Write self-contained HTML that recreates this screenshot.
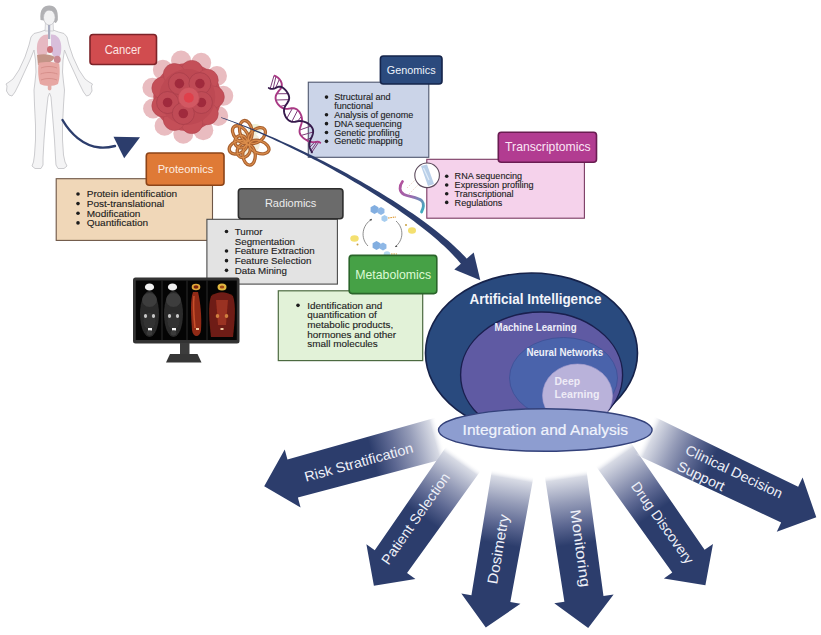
<!DOCTYPE html>
<html><head><meta charset="utf-8"><style>
html,body{margin:0;padding:0;background:#fff;width:821px;height:635px;overflow:hidden}
svg{display:block}
text{font-family:"Liberation Sans", sans-serif}
</style></head><body>
<svg width="821" height="635" viewBox="0 0 821 635">
<defs><filter id="soft" x="-10%" y="-10%" width="120%" height="120%"><feGaussianBlur stdDeviation="0.7"/></filter>
<linearGradient id="rnag" x1="0" y1="0" x2="1" y2="1"><stop offset="0" stop-color="#b4509c"/><stop offset="0.5" stop-color="#9a6cb0"/><stop offset="1" stop-color="#3ab0c0"/></linearGradient>
<linearGradient id="fg1" gradientUnits="userSpaceOnUse" x1="0" y1="0" x2="184" y2="0"><stop offset="0" stop-color="#ffffff" stop-opacity="0"/><stop offset="0.04" stop-color="#d8dbe5" stop-opacity="1"/><stop offset="0.16" stop-color="#959cb8" stop-opacity="1"/><stop offset="0.28" stop-color="#5d6892" stop-opacity="1"/><stop offset="0.39" stop-color="#2c3d6c" stop-opacity="1"/><stop offset="1" stop-color="#2c3d6c" stop-opacity="1"/></linearGradient>
<linearGradient id="fg2" gradientUnits="userSpaceOnUse" x1="0" y1="0" x2="156" y2="0"><stop offset="0" stop-color="#ffffff" stop-opacity="0"/><stop offset="0.04" stop-color="#d8dbe5" stop-opacity="1"/><stop offset="0.19" stop-color="#959cb8" stop-opacity="1"/><stop offset="0.33" stop-color="#5d6892" stop-opacity="1"/><stop offset="0.46" stop-color="#2c3d6c" stop-opacity="1"/><stop offset="1" stop-color="#2c3d6c" stop-opacity="1"/></linearGradient>
<linearGradient id="fg3" gradientUnits="userSpaceOnUse" x1="0" y1="0" x2="157" y2="0"><stop offset="0" stop-color="#ffffff" stop-opacity="0"/><stop offset="0.04" stop-color="#d8dbe5" stop-opacity="1"/><stop offset="0.19" stop-color="#959cb8" stop-opacity="1"/><stop offset="0.33" stop-color="#5d6892" stop-opacity="1"/><stop offset="0.46" stop-color="#2c3d6c" stop-opacity="1"/><stop offset="1" stop-color="#2c3d6c" stop-opacity="1"/></linearGradient>
<linearGradient id="fg4" gradientUnits="userSpaceOnUse" x1="0" y1="0" x2="157" y2="0"><stop offset="0" stop-color="#ffffff" stop-opacity="0"/><stop offset="0.04" stop-color="#d8dbe5" stop-opacity="1"/><stop offset="0.19" stop-color="#959cb8" stop-opacity="1"/><stop offset="0.33" stop-color="#5d6892" stop-opacity="1"/><stop offset="0.46" stop-color="#2c3d6c" stop-opacity="1"/><stop offset="1" stop-color="#2c3d6c" stop-opacity="1"/></linearGradient>
<linearGradient id="fg5" gradientUnits="userSpaceOnUse" x1="0" y1="0" x2="161" y2="0"><stop offset="0" stop-color="#ffffff" stop-opacity="0"/><stop offset="0.04" stop-color="#d8dbe5" stop-opacity="1"/><stop offset="0.19" stop-color="#959cb8" stop-opacity="1"/><stop offset="0.32" stop-color="#5d6892" stop-opacity="1"/><stop offset="0.45" stop-color="#2c3d6c" stop-opacity="1"/><stop offset="1" stop-color="#2c3d6c" stop-opacity="1"/></linearGradient>
<linearGradient id="fg6" gradientUnits="userSpaceOnUse" x1="0" y1="0" x2="190" y2="0"><stop offset="0" stop-color="#ffffff" stop-opacity="0"/><stop offset="0.04" stop-color="#d8dbe5" stop-opacity="1"/><stop offset="0.16" stop-color="#959cb8" stop-opacity="1"/><stop offset="0.27" stop-color="#5d6892" stop-opacity="1"/><stop offset="0.38" stop-color="#2c3d6c" stop-opacity="1"/><stop offset="1" stop-color="#2c3d6c" stop-opacity="1"/></linearGradient></defs>
<rect width="821" height="635" fill="#ffffff"/>
<path d="M45.5,30 L40,32 L34,33.5 L31,37 L29,45 L25,57 L19,70 L13,79 L9,82 L6,84 L7,86 L6.5,91 L9,95 L12,96 L15,92 L17,88 L19,84 L24,73 L30,60 L34,50 L35.5,60 L36,72 L35,82 L34,90 L34.5,105 L35.5,125 L35.5,140 L34.5,155 L33.5,162 L32,166 L35,168.5 L41,168.5 L43,165 L43,158 L44,140 L46,115 L48,97 L49.5,93 L51,97 L52.5,115 L54.5,140 L55.5,158 L56,165 L58,168.5 L64,168.5 L67,166 L65,162 L63.5,155 L62.5,140 L62.5,125 L63.5,105 L64.5,90 L63.5,82 L62.5,72 L63,60 L64.5,50 L68.5,60 L74.5,73 L79.5,84 L81.5,88 L83.5,92 L86.5,96 L89.5,95 L92,91 L91.5,86 L92.5,84 L89,82 L85,79 L79,70 L73,57 L69,45 L67,37 L64,33.5 L58.5,32 L53,30 Z" fill="#f4f4f5" stroke="#c6c6ca" stroke-width="0.9" stroke-linejoin="round"/>
<path d="M45.5,22 L53,22 L53.5,31 L45,31 Z" fill="#f2f2f3" stroke="#c6c6ca" stroke-width="0.7"/>
<path d="M40.5,20 C39.5,9 43.5,5.5 49.2,5.5 C55,5.5 58.5,9 57.8,20 C56.5,23 55,24 54.5,22 Z" fill="#b1b1b4"/>
<ellipse cx="49.3" cy="17.5" rx="5.8" ry="7.6" fill="#f2f2f3" stroke="#b4b4b8" stroke-width="0.6"/>
<path d="M43.6,14 C44.5,10.5 47,10 49.3,10.5 C52,10 54.5,11 55,14 C55,11 53,8 49.3,8 C45.5,8 43.5,11 43.6,14 Z" fill="#b1b1b4"/>
<path d="M48,34.5 C42,34 37.5,39 37,46 C36.5,53 37.5,57.5 41.5,57.5 C46,57.5 48,53 48,47 Z" fill="#e6b9c2"/>
<path d="M51,34.5 C57,34 61,39 61.2,46 C61.5,53 60.5,57.5 57,57.5 C53,57.5 51,53 51,47 Z" fill="#d8bedb"/>
<rect x="48" y="25" width="2.2" height="14" fill="#a8acbf"/>
<ellipse cx="50" cy="49.5" rx="3" ry="3.6" fill="#cd7078"/>
<path d="M37,55 C43,53.5 50,54 55,57 C52,62.5 45,65.5 38,65 Z" fill="#c39487"/>
<ellipse cx="57.3" cy="59.5" rx="3.4" ry="3.8" fill="#c98892"/>
<path d="M38.5,63 C45,61.5 54,61.5 59.3,63.5 C60,71 60,78 58,84 C54,86.5 44,86.5 40,84 C38,78 37.8,70 38.5,63 Z" fill="#e7a7a3"/>
<path d="M41,68 C46,66 52,66 57,68 M40.5,74 C46,72 52,72 57.5,74 M41,80 C46,78 52,78 57,80" stroke="#d48c88" stroke-width="0.9" fill="none"/>
<rect x="47.8" y="84" width="3.6" height="6.5" rx="1.8" fill="#e3aba6"/>
<path d="M62.5,120 C70,133 83,146 100,147.5 C106,148 111,147 115,146" fill="none" stroke="#2c3d6c" stroke-width="2.4" stroke-linecap="round"/>
<polygon points="113.5,136.8 140,137.3 124.2,158.3" fill="#2c3d6c"/>
<g filter="url(#soft)">
<circle cx="181.05" cy="60.56" r="10" fill="#e9bcc0"/>
<circle cx="201.21" cy="62.87" r="10" fill="#e9bcc0"/>
<circle cx="216.95" cy="76.02" r="10" fill="#e9bcc0"/>
<circle cx="223.28" cy="95.83" r="10" fill="#e9bcc0"/>
<circle cx="218.19" cy="116.01" r="10" fill="#e9bcc0"/>
<circle cx="203.29" cy="130.15" r="10" fill="#e9bcc0"/>
<circle cx="183.31" cy="133.77" r="10" fill="#e9bcc0"/>
<circle cx="164.6" cy="125.72" r="10" fill="#e9bcc0"/>
<circle cx="153.1" cy="108.55" r="10" fill="#e9bcc0"/>
<circle cx="152.45" cy="87.71" r="10" fill="#e9bcc0"/>
<circle cx="162.87" cy="69.82" r="10" fill="#e9bcc0"/>
<circle cx="187.3" cy="97" r="34" fill="#c14d57"/>
<circle cx="191.81" cy="71.39" r="11" fill="#c45059" stroke="#b0434e" stroke-width="0.6"/>
<circle cx="207.22" cy="80.29" r="11" fill="#c45059" stroke="#b0434e" stroke-width="0.6"/>
<circle cx="213.3" cy="97" r="11" fill="#c45059" stroke="#b0434e" stroke-width="0.6"/>
<circle cx="207.22" cy="113.71" r="11" fill="#c45059" stroke="#b0434e" stroke-width="0.6"/>
<circle cx="191.81" cy="122.61" r="11" fill="#c45059" stroke="#b0434e" stroke-width="0.6"/>
<circle cx="174.3" cy="119.52" r="11" fill="#c45059" stroke="#b0434e" stroke-width="0.6"/>
<circle cx="162.87" cy="105.89" r="11" fill="#c45059" stroke="#b0434e" stroke-width="0.6"/>
<circle cx="162.87" cy="88.11" r="11" fill="#c45059" stroke="#b0434e" stroke-width="0.6"/>
<circle cx="174.3" cy="74.48" r="11" fill="#c45059" stroke="#b0434e" stroke-width="0.6"/>
<circle cx="187.3" cy="97" r="28" fill="#bd4853"/>
<circle cx="179.4" cy="83.6" r="11" fill="#c04c57" stroke="#a83d4a" stroke-width="0.8"/>
<circle cx="179.4" cy="83.6" r="4.8" fill="#a02c3c"/>
<circle cx="199.9" cy="83.6" r="11" fill="#c04c57" stroke="#a83d4a" stroke-width="0.8"/>
<circle cx="199.9" cy="83.6" r="4.8" fill="#a02c3c"/>
<circle cx="167.6" cy="102.5" r="11" fill="#c04c57" stroke="#a83d4a" stroke-width="0.8"/>
<circle cx="167.6" cy="102.5" r="4.8" fill="#a02c3c"/>
<circle cx="201.4" cy="102.5" r="11" fill="#c04c57" stroke="#a83d4a" stroke-width="0.8"/>
<circle cx="201.4" cy="102.5" r="4.8" fill="#a02c3c"/>
<circle cx="183.3" cy="113.5" r="11" fill="#c04c57" stroke="#a83d4a" stroke-width="0.8"/>
<circle cx="183.3" cy="113.5" r="4.8" fill="#a02c3c"/>
<circle cx="188.8" cy="97.8" r="10.5" fill="#d25862" stroke="#c04a55" stroke-width="0.8"/>
<circle cx="188.8" cy="97.8" r="5" fill="#df404c"/>
</g>
<rect x="90" y="34.5" width="66.5" height="30" rx="3" fill="#d14c4f" stroke="#7c2328" stroke-width="1.6"/>
<text x="104.7" y="53.6" font-size="12.4" fill="#fde4e2" font-weight="normal" text-anchor="start" textLength="36.2" lengthAdjust="spacingAndGlyphs" >Cancer</text>
<circle cx="248" cy="143" r="12" fill="#f3eedc"/>
<ellipse cx="255" cy="129" rx="7" ry="5" fill="#eef0d8"/>
<ellipse cx="240.47" cy="134.28" rx="9.92" ry="6.2" transform="rotate(-130.8 240.47 134.28)" fill="none" stroke="#a8602f" stroke-width="3.3"/>
<ellipse cx="245.87" cy="130.95" rx="10.54" ry="6.2" transform="rotate(-100 245.87 130.95)" fill="none" stroke="#a8602f" stroke-width="3.3"/>
<ellipse cx="256.82" cy="135.6" rx="9.92" ry="6.2" transform="rotate(-40 256.82 135.6)" fill="none" stroke="#a8602f" stroke-width="3.3"/>
<ellipse cx="238.06" cy="147.22" rx="9.3" ry="6.2" transform="rotate(157 238.06 147.22)" fill="none" stroke="#a8602f" stroke-width="3.3"/>
<ellipse cx="249.04" cy="154.83" rx="10.23" ry="6.2" transform="rotate(85 249.04 154.83)" fill="none" stroke="#a8602f" stroke-width="3.3"/>
<ellipse cx="259.16" cy="147.06" rx="10.23" ry="6.2" transform="rotate(20 259.16 147.06)" fill="none" stroke="#a8602f" stroke-width="3.3"/>
<ellipse cx="240.91" cy="141.75" rx="6.2" ry="6.2" transform="rotate(-170 240.91 141.75)" fill="none" stroke="#a8602f" stroke-width="3.3"/>
<ellipse cx="243.68" cy="150.48" rx="7.44" ry="6.2" transform="rotate(120 243.68 150.48)" fill="none" stroke="#a8602f" stroke-width="3.3"/>
<ellipse cx="240.47" cy="134.28" rx="9.92" ry="6.2" transform="rotate(-130.8 240.47 134.28)" fill="none" stroke="#dc8e4c" stroke-width="1.1"/>
<ellipse cx="245.87" cy="130.95" rx="10.54" ry="6.2" transform="rotate(-100 245.87 130.95)" fill="none" stroke="#dc8e4c" stroke-width="1.1"/>
<ellipse cx="256.82" cy="135.6" rx="9.92" ry="6.2" transform="rotate(-40 256.82 135.6)" fill="none" stroke="#dc8e4c" stroke-width="1.1"/>
<ellipse cx="238.06" cy="147.22" rx="9.3" ry="6.2" transform="rotate(157 238.06 147.22)" fill="none" stroke="#dc8e4c" stroke-width="1.1"/>
<ellipse cx="249.04" cy="154.83" rx="10.23" ry="6.2" transform="rotate(85 249.04 154.83)" fill="none" stroke="#dc8e4c" stroke-width="1.1"/>
<ellipse cx="259.16" cy="147.06" rx="10.23" ry="6.2" transform="rotate(20 259.16 147.06)" fill="none" stroke="#dc8e4c" stroke-width="1.1"/>
<ellipse cx="240.91" cy="141.75" rx="6.2" ry="6.2" transform="rotate(-170 240.91 141.75)" fill="none" stroke="#dc8e4c" stroke-width="1.1"/>
<ellipse cx="243.68" cy="150.48" rx="7.44" ry="6.2" transform="rotate(120 243.68 150.48)" fill="none" stroke="#dc8e4c" stroke-width="1.1"/>
<rect x="308.3" y="82.2" width="120.5" height="75.1" rx="0" fill="#cbd4e8" stroke="#4e566e" stroke-width="1.1"/>
<circle cx="326.5" cy="97.1" r="1.8" fill="#1c1c1c"/>
<text x="334.2" y="100.2" font-size="9.4" fill="#1c1c1c" font-weight="normal" text-anchor="start" textLength="56.43" lengthAdjust="spacingAndGlyphs" stroke="#1c1c1c" stroke-width="0.12">Structural and</text>
<text x="334.2" y="109.05" font-size="9.4" fill="#1c1c1c" font-weight="normal" text-anchor="start" textLength="38.8" lengthAdjust="spacingAndGlyphs" stroke="#1c1c1c" stroke-width="0.12">functional</text>
<circle cx="326.5" cy="114.8" r="1.8" fill="#1c1c1c"/>
<text x="334.2" y="117.9" font-size="9.4" fill="#1c1c1c" font-weight="normal" text-anchor="start" textLength="79.1" lengthAdjust="spacingAndGlyphs" stroke="#1c1c1c" stroke-width="0.12">Analysis of genome</text>
<circle cx="326.5" cy="123.65" r="1.8" fill="#1c1c1c"/>
<text x="334.2" y="126.75" font-size="9.4" fill="#1c1c1c" font-weight="normal" text-anchor="start" textLength="67.52" lengthAdjust="spacingAndGlyphs" stroke="#1c1c1c" stroke-width="0.12">DNA sequencing</text>
<circle cx="326.5" cy="132.5" r="1.8" fill="#1c1c1c"/>
<text x="334.2" y="135.6" font-size="9.4" fill="#1c1c1c" font-weight="normal" text-anchor="start" textLength="65.5" lengthAdjust="spacingAndGlyphs" stroke="#1c1c1c" stroke-width="0.12">Genetic profiling</text>
<circle cx="326.5" cy="141.35" r="1.8" fill="#1c1c1c"/>
<text x="334.2" y="144.45" font-size="9.4" fill="#1c1c1c" font-weight="normal" text-anchor="start" textLength="68.52" lengthAdjust="spacingAndGlyphs" stroke="#1c1c1c" stroke-width="0.12">Genetic mapping</text>
<rect x="380.4" y="56" width="61.6" height="28" rx="3" fill="#2b4a7d" stroke="#15244a" stroke-width="1.6"/>
<text x="386.8" y="73.8" font-size="11.5" fill="#eef3fb" font-weight="normal" text-anchor="start" textLength="48.8" lengthAdjust="spacingAndGlyphs" >Genomics</text>
<rect x="426.8" y="159.3" width="157.6" height="58.9" rx="0" fill="#f5d2eb" stroke="#7a3a62" stroke-width="1.1"/>
<circle cx="446.7" cy="176.3" r="1.8" fill="#1c1c1c"/>
<text x="454.6" y="179.4" font-size="9.4" fill="#1c1c1c" font-weight="normal" text-anchor="start" textLength="67.44" lengthAdjust="spacingAndGlyphs" stroke="#1c1c1c" stroke-width="0.12">RNA sequencing</text>
<circle cx="446.7" cy="185" r="1.8" fill="#1c1c1c"/>
<text x="454.6" y="188.1" font-size="9.4" fill="#1c1c1c" font-weight="normal" text-anchor="start" textLength="79" lengthAdjust="spacingAndGlyphs" stroke="#1c1c1c" stroke-width="0.12">Expression profiling</text>
<circle cx="446.7" cy="193.7" r="1.8" fill="#1c1c1c"/>
<text x="454.6" y="196.8" font-size="9.4" fill="#1c1c1c" font-weight="normal" text-anchor="start" textLength="59.03" lengthAdjust="spacingAndGlyphs" stroke="#1c1c1c" stroke-width="0.12">Transcriptional</text>
<circle cx="446.7" cy="202.4" r="1.8" fill="#1c1c1c"/>
<text x="454.6" y="205.5" font-size="9.4" fill="#1c1c1c" font-weight="normal" text-anchor="start" textLength="47.81" lengthAdjust="spacingAndGlyphs" stroke="#1c1c1c" stroke-width="0.12">Regulations</text>
<rect x="498.3" y="132.2" width="98.2" height="30.1" rx="3" fill="#b23c91" stroke="#691c51" stroke-width="1.6"/>
<text x="505.1" y="150.9" font-size="12.2" fill="#fbe6f5" font-weight="normal" text-anchor="start" textLength="85.5" lengthAdjust="spacingAndGlyphs" >Transcriptomics</text>
<path d="M402.5,181.5 C399,186 399,192 404,194.5 C409,197 418,197 422,201 C425,205 423,209 421.5,212" fill="none" stroke="url(#rnag)" stroke-width="2.8" stroke-linecap="round"/>
<path d="M407,188 L417,178 M409,194 L418,185" stroke="#e8c8b8" stroke-width="0.8" stroke-dasharray="1.5 1.5" fill="none"/>
<circle cx="427.1" cy="175.3" r="12.3" fill="#ffffff" stroke="#5c4a5c" stroke-width="1.1"/>
<path d="M421,166 L427,164.5 L434,184 L428,186 Z" fill="#b9cfe8"/>
<path d="M423.5,168 L429,180" stroke="#e0ecf8" stroke-width="1.2"/>
<rect x="56.2" y="178.7" width="156.3" height="61.7" rx="0" fill="#f0d7b8" stroke="#6e5646" stroke-width="1.1"/>
<circle cx="78" cy="193.97" r="1.8" fill="#1c1c1c"/>
<text x="86.7" y="197.2" font-size="9.8" fill="#1c1c1c" font-weight="normal" text-anchor="start" textLength="90.5" lengthAdjust="spacingAndGlyphs" stroke="#1c1c1c" stroke-width="0.12">Protein identification</text>
<circle cx="78" cy="203.62" r="1.8" fill="#1c1c1c"/>
<text x="86.7" y="206.85" font-size="9.8" fill="#1c1c1c" font-weight="normal" text-anchor="start" textLength="77.64" lengthAdjust="spacingAndGlyphs" stroke="#1c1c1c" stroke-width="0.12">Post-translational</text>
<circle cx="78" cy="213.27" r="1.8" fill="#1c1c1c"/>
<text x="86.7" y="216.5" font-size="9.8" fill="#1c1c1c" font-weight="normal" text-anchor="start" textLength="53.62" lengthAdjust="spacingAndGlyphs" stroke="#1c1c1c" stroke-width="0.12">Modification</text>
<circle cx="78" cy="222.92" r="1.8" fill="#1c1c1c"/>
<text x="86.7" y="226.15" font-size="9.8" fill="#1c1c1c" font-weight="normal" text-anchor="start" textLength="61.45" lengthAdjust="spacingAndGlyphs" stroke="#1c1c1c" stroke-width="0.12">Quantification</text>
<rect x="146.3" y="153" width="77.7" height="32.2" rx="3" fill="#df7a36" stroke="#8c4418" stroke-width="1.6"/>
<text x="157.7" y="172.8" font-size="11.6" fill="#fdeee2" font-weight="normal" text-anchor="start" textLength="55.7" lengthAdjust="spacingAndGlyphs" >Proteomics</text>
<rect x="206.9" y="219.3" width="130.5" height="64.8" rx="0" fill="#e3e3e3" stroke="#4a4a4a" stroke-width="1.1"/>
<circle cx="226.5" cy="231.57" r="1.8" fill="#1c1c1c"/>
<text x="234.7" y="234.8" font-size="9.8" fill="#1c1c1c" font-weight="normal" text-anchor="start" textLength="27.89" lengthAdjust="spacingAndGlyphs" stroke="#1c1c1c" stroke-width="0.12">Tumor</text>
<text x="234.7" y="244.5" font-size="9.8" fill="#1c1c1c" font-weight="normal" text-anchor="start" textLength="60.35" lengthAdjust="spacingAndGlyphs" stroke="#1c1c1c" stroke-width="0.12">Segmentation</text>
<circle cx="226.5" cy="250.97" r="1.8" fill="#1c1c1c"/>
<text x="234.7" y="254.2" font-size="9.8" fill="#1c1c1c" font-weight="normal" text-anchor="start" textLength="79.9" lengthAdjust="spacingAndGlyphs" stroke="#1c1c1c" stroke-width="0.12">Feature Extraction</text>
<circle cx="226.5" cy="260.67" r="1.8" fill="#1c1c1c"/>
<text x="234.7" y="263.9" font-size="9.8" fill="#1c1c1c" font-weight="normal" text-anchor="start" textLength="76.65" lengthAdjust="spacingAndGlyphs" stroke="#1c1c1c" stroke-width="0.12">Feature Selection</text>
<circle cx="226.5" cy="270.37" r="1.8" fill="#1c1c1c"/>
<text x="234.7" y="273.6" font-size="9.8" fill="#1c1c1c" font-weight="normal" text-anchor="start" textLength="52.18" lengthAdjust="spacingAndGlyphs" stroke="#1c1c1c" stroke-width="0.12">Data Mining</text>
<rect x="238.4" y="188.8" width="104.5" height="29.9" rx="3" fill="#6b6b6b" stroke="#2d2d2d" stroke-width="1.6"/>
<text x="264.9" y="207.4" font-size="11.5" fill="#ececec" font-weight="normal" text-anchor="start" textLength="51.5" lengthAdjust="spacingAndGlyphs" >Radiomics</text>
<rect x="133" y="277.5" width="106.5" height="66" rx="2.5" fill="#333333"/>
<rect x="135.8" y="280.5" width="101" height="59.5" fill="#040404"/>
<rect x="180" y="343" width="9.5" height="11.5" fill="#3c3c3c"/>
<path d="M170,354 L197.5,354 L201.5,362.5 L166,362.5 Z" fill="#363636"/>
<g filter="url(#soft)">
<ellipse cx="149.5" cy="314" rx="9.5" ry="23" fill="#2a2a2a"/>
<ellipse cx="149.5" cy="300" rx="7.5" ry="7" fill="#3c3c3c"/>
<ellipse cx="149.5" cy="321" rx="6" ry="8" fill="#333333"/>
<ellipse cx="149.5" cy="287" rx="4.6" ry="3.6" fill="#f0f0f0"/>
<ellipse cx="145.5" cy="316" rx="1.6" ry="2" fill="#c8c8c8"/>
<ellipse cx="153.5" cy="316" rx="1.6" ry="2" fill="#c8c8c8"/>
<rect x="148.0" y="328" width="4" height="2.5" fill="#f4f4f4"/>
<ellipse cx="149.5" cy="333" rx="3" ry="2.5" fill="#3a3a3a"/>
<ellipse cx="173.5" cy="314" rx="9.5" ry="23" fill="#2a2a2a"/>
<ellipse cx="173.5" cy="300" rx="7.5" ry="7" fill="#3c3c3c"/>
<ellipse cx="173.5" cy="321" rx="6" ry="8" fill="#333333"/>
<ellipse cx="172.5" cy="287" rx="4.6" ry="3.6" fill="#f0f0f0"/>
<ellipse cx="169.5" cy="316" rx="1.6" ry="2" fill="#c8c8c8"/>
<ellipse cx="177.5" cy="316" rx="1.6" ry="2" fill="#c8c8c8"/>
<rect x="172.0" y="328" width="4" height="2.5" fill="#f4f4f4"/>
<ellipse cx="173.5" cy="333" rx="3" ry="2.5" fill="#3a3a3a"/>
<path d="M193,292 C190,300 191,315 192,330 C193,338 200,338 201,330 C202,315 200,300 198,292 Z" fill="#902a18"/>
<path d="M194,296 C193,305 194,318 195,328" stroke="#c8502a" stroke-width="1.5" fill="none"/>
<ellipse cx="196" cy="287" rx="4.3" ry="3.3" fill="#e0a838"/>
<ellipse cx="196" cy="287" rx="2.5" ry="1.8" fill="#7a2410"/>
<rect x="196" y="328" width="3" height="2" fill="#f0c8a0"/>
<path d="M211,296 C208,305 209,320 211,337 L233,337 C235,320 236,305 233,296 C226,291 218,291 211,296 Z" fill="#6e1c12"/>
<path d="M216,300 L228,300 L226,325 L218,325 Z" fill="#9a3020"/>
<ellipse cx="222" cy="287" rx="4.5" ry="3.6" fill="#e0b840"/>
<ellipse cx="222" cy="287" rx="2.3" ry="1.6" fill="#a04818"/>
<ellipse cx="217.5" cy="316" rx="1.8" ry="2" fill="#d08040"/>
<ellipse cx="226.5" cy="316" rx="1.8" ry="2" fill="#d08040"/>
<rect x="220.5" y="328" width="3" height="2" fill="#f0c8a0"/>
</g>
<rect x="161.5" y="280.5" width="1" height="59.5" fill="#2a2a2a"/>
<rect x="186.5" y="280.5" width="1" height="59.5" fill="#2a2a2a"/>
<rect x="206.5" y="280.5" width="1" height="59.5" fill="#2a2a2a"/>
<rect x="278.3" y="290.8" width="144.4" height="69.8" rx="0" fill="#e2f2d8" stroke="#4c6a40" stroke-width="1.2"/>
<circle cx="298" cy="305.37" r="1.8" fill="#1c1c1c"/>
<text x="307.3" y="308.6" font-size="9.8" fill="#1c1c1c" font-weight="normal" text-anchor="start" textLength="74.99" lengthAdjust="spacingAndGlyphs" stroke="#1c1c1c" stroke-width="0.12">Identification and</text>
<text x="307.3" y="318.3" font-size="9.8" fill="#1c1c1c" font-weight="normal" text-anchor="start" textLength="69.48" lengthAdjust="spacingAndGlyphs" stroke="#1c1c1c" stroke-width="0.12">quantification of</text>
<text x="307.3" y="328" font-size="9.8" fill="#1c1c1c" font-weight="normal" text-anchor="start" textLength="86" lengthAdjust="spacingAndGlyphs" stroke="#1c1c1c" stroke-width="0.12">metabolic products,</text>
<text x="307.3" y="337.7" font-size="9.8" fill="#1c1c1c" font-weight="normal" text-anchor="start" textLength="88.77" lengthAdjust="spacingAndGlyphs" stroke="#1c1c1c" stroke-width="0.12">hormones and other</text>
<text x="307.3" y="347.4" font-size="9.8" fill="#1c1c1c" font-weight="normal" text-anchor="start" textLength="70.55" lengthAdjust="spacingAndGlyphs" stroke="#1c1c1c" stroke-width="0.12">small molecules</text>
<path d="M372,219 C362,225 360,238 368,246" fill="none" stroke="#707070" stroke-width="0.8"/>
<path d="M396,221 C404,228 404,240 395,247" fill="none" stroke="#707070" stroke-width="0.8"/>
<path d="M372,219 l-2.5,0.3 l1.5,2 Z M395,247 l2.5,0 l-1.3,-2 Z" fill="#555"/>
<polygon points="378.4,211.75 374.5,214 370.6,211.75 370.6,207.25 374.5,205 378.4,207.25" fill="#82aee0"/>
<polygon points="384.46,213 381,215 377.54,213 377.54,209 381,207 384.46,209" fill="#8fb8e6"/>
<polygon points="387.53,220.25 384.5,222 381.47,220.25 381.47,216.75 384.5,215 387.53,216.75" fill="#a7cdef"/>
<polygon points="380.4,247.75 376.5,250 372.6,247.75 372.6,243.25 376.5,241 380.4,243.25" fill="#82aee0"/>
<polygon points="386.46,248.5 383,250.5 379.54,248.5 379.54,244.5 383,242.5 386.46,244.5" fill="#8fb8e6"/>
<circle cx="387" cy="254.5" r="3.3" fill="#b5d8f0"/>
<path d="M388,218 L396,217" stroke="#e0a040" stroke-width="1.2" stroke-dasharray="1.6 0.8"/>
<path d="M391,254 L397,254" stroke="#e0a040" stroke-width="1.2" stroke-dasharray="1.6 0.8"/>
<ellipse cx="354.5" cy="238.5" rx="4.2" ry="3.2" fill="#f4e070"/>
<ellipse cx="412" cy="230.5" rx="4" ry="3.2" fill="#f4e070"/>
<circle cx="357.5" cy="244.5" r="1" fill="#c8a040"/>
<circle cx="406" cy="225" r="1" fill="#c8a040"/>
<rect x="349.2" y="255.4" width="87.6" height="38.2" rx="3" fill="#46a146" stroke="#2a652a" stroke-width="1.6"/>
<text x="355.3" y="278.9" font-size="12.4" fill="#dcfad4" font-weight="normal" text-anchor="start" textLength="75.8" lengthAdjust="spacingAndGlyphs" >Metabolomics</text>
<line x1="274.04" y1="75.51" x2="270.22" y2="88.56" stroke="#7a3c78" stroke-width="1"/>
<line x1="275.96" y1="76.35" x2="273.14" y2="88.81" stroke="#7a3c78" stroke-width="1"/>
<line x1="279.39" y1="79.11" x2="275.7" y2="87.86" stroke="#7a3c78" stroke-width="1"/>
<line x1="276.77" y1="93.75" x2="288.01" y2="93.68" stroke="#7a3c78" stroke-width="1"/>
<line x1="275.86" y1="100.01" x2="288.94" y2="99.66" stroke="#7a3c78" stroke-width="1"/>
<line x1="280.19" y1="106.42" x2="285.92" y2="104.98" stroke="#7a3c78" stroke-width="1"/>
<line x1="292.53" y1="108.21" x2="286.77" y2="118.41" stroke="#7a3c78" stroke-width="1"/>
<line x1="297.72" y1="110.11" x2="291.78" y2="121.73" stroke="#7a3c78" stroke-width="1"/>
<line x1="301.49" y1="116.3" x2="297.61" y2="121.31" stroke="#7a3c78" stroke-width="1"/>
<line x1="299.61" y1="130.04" x2="311.01" y2="126.06" stroke="#7a3c78" stroke-width="1"/>
<line x1="300.96" y1="135.48" x2="313.14" y2="132.02" stroke="#7a3c78" stroke-width="1"/>
<line x1="305.9" y1="139.81" x2="311.3" y2="137.89" stroke="#7a3c78" stroke-width="1"/>
<line x1="314.67" y1="142.11" x2="309.73" y2="147.26" stroke="#7a3c78" stroke-width="1"/>
<line x1="316.91" y1="141.78" x2="311.02" y2="150.42" stroke="#7a3c78" stroke-width="1"/>
<line x1="318.84" y1="141.97" x2="311.96" y2="152.09" stroke="#7a3c78" stroke-width="1"/>
<path d="M274.2,75.6 L274.17,75.57 L274.04,75.51 L274.15,75.55 L274.44,75.65 L274.86,75.82 L275.37,76.05 L275.96,76.35 L276.61,76.73 L277.29,77.2 L278,77.75 L278.7,78.39 L279.39,79.11 L280.03,79.93 L280.62,80.83 L281.11,81.79 L281.49,82.82 L281.74,83.87 L281.83,84.94 L281.75,85.99 L281.5,87 L281.07,87.95 L280.48,88.87 L279.77,89.78 L279.01,90.71 L278.22,91.67 L277.46,92.68 L276.77,93.75 L276.2,94.88 L275.8,96.07 L275.6,97.34 L275.61,98.65 L275.86,100.01 L276.34,101.39 L277.04,102.75 L277.93,104.07 L279,105.31 L280.19,106.42 L281.49,107.37 L282.83,108.12 L284.18,108.61 L285.5,108.85 L286.78,108.89 L288,108.8 L289.18,108.63 L290.32,108.44 L291.43,108.29 L292.53,108.21 L293.6,108.25 L294.67,108.44 L295.71,108.81 L296.73,109.36 L297.72,110.11 L298.65,111.04 L299.52,112.16 L300.3,113.42 L300.96,114.81 L301.49,116.3 L301.85,117.83 L302.02,119.36 L301.99,120.85 L301.77,122.28 L301.43,123.67 L301.01,125.03 L300.58,126.34 L300.17,127.61 L299.83,128.84 L299.61,130.04 L299.53,131.19 L299.61,132.32 L299.88,133.41 L300.34,134.46 L300.96,135.48 L301.75,136.45 L302.66,137.38 L303.68,138.26 L304.77,139.07 L305.9,139.81 L307.03,140.46 L308.13,141.01 L309.18,141.42 L310.16,141.72 L311.08,141.93 L311.93,142.06 L312.72,142.14 L313.43,142.16 L314.08,142.15 L314.67,142.11 L315.2,142.04 L315.68,141.97 L316.12,141.9 L316.53,141.83 L316.91,141.78 L317.28,141.75 L317.64,141.74 L318.02,141.77 L318.41,141.84 L318.84,141.97 L319.33,142.17 L319.88,142.48 L320.28,142.73" fill="none" stroke="#a83884" stroke-width="1.9" stroke-linecap="round"/>
<path d="M268.8,88 L269.4,88.28 L270.22,88.56 L270.9,88.73 L271.51,88.84 L272.08,88.88 L272.62,88.87 L273.14,88.81 L273.65,88.7 L274.16,88.55 L274.66,88.35 L275.18,88.12 L275.7,87.86 L276.25,87.59 L276.83,87.31 L277.45,87.06 L278.12,86.84 L278.86,86.69 L279.67,86.64 L280.56,86.73 L281.5,87 L282.5,87.49 L283.52,88.2 L284.54,89.1 L285.53,90.13 L286.46,91.25 L287.3,92.45 L288.01,93.68 L288.58,94.93 L288.96,96.16 L289.15,97.36 L289.14,98.53 L288.94,99.66 L288.55,100.75 L288.01,101.81 L287.36,102.86 L286.65,103.91 L285.92,104.98 L285.23,106.1 L284.64,107.3 L284.22,108.59 L284.01,109.99 L284.03,111.46 L284.25,112.97 L284.67,114.46 L285.24,115.89 L285.95,117.21 L286.77,118.41 L287.67,119.44 L288.64,120.3 L289.65,120.97 L290.7,121.44 L291.78,121.73 L292.89,121.86 L294.02,121.84 L295.18,121.71 L296.37,121.52 L297.61,121.31 L298.89,121.14 L300.22,121.07 L301.61,121.15 L303.06,121.42 L304.54,121.86 L306.02,122.45 L307.44,123.19 L308.78,124.05 L309.98,125.01 L311.01,126.06 L311.86,127.18 L312.5,128.35 L312.92,129.56 L313.13,130.78 L313.14,132.02 L312.98,133.24 L312.68,134.45 L312.27,135.63 L311.8,136.78 L311.3,137.89 L310.81,138.96 L310.38,139.98 L310.02,140.98 L309.76,141.95 L309.57,142.92 L309.46,143.85 L309.43,144.76 L309.46,145.64 L309.57,146.47 L309.73,147.26 L309.93,148 L310.18,148.69 L310.45,149.33 L310.74,149.9 L311.02,150.42 L311.3,150.88 L311.54,151.28 L311.75,151.62 L311.89,151.89 L311.96,152.09 L311.92,152.2 L311.77,152.2 L311.72,152.27" fill="none" stroke="#361a4c" stroke-width="1.9" stroke-linecap="round"/>
<path d="M220.88,117.83 L224.86,119.26 L228.89,120.75 L232.99,122.31 L237.14,123.92 L241.35,125.6 L245.61,127.33 L249.92,129.12 L254.27,130.97 L258.66,132.86 L263.09,134.81 L267.55,136.81 L272.05,138.85 L276.58,140.94 L281.13,143.07 L285.7,145.25 L290.3,147.47 L294.9,149.73 L299.53,152.03 L304.16,154.37 L308.79,156.75 L313.43,159.15 L318.07,161.6 L322.7,164.07 L327.33,166.57 L331.95,169.11 L336.55,171.67 L341.14,174.26 L345.71,176.87 L350.25,179.5 L354.77,182.16 L359.25,184.84 L363.71,187.53 L368.13,190.24 L372.51,192.97 L376.84,195.72 L381.13,198.47 L385.37,201.24 L389.56,204.02 L393.69,206.81 L397.76,209.6 L401.77,212.4 L405.71,215.21 L409.58,218.01 L413.39,220.82 L417.11,223.63 L420.75,226.43 L424.32,229.23 L427.79,232.03 L431.18,234.82 L434.47,237.6 L437.67,240.37 L440.77,243.13 L443.76,245.87 L446.65,248.6 L449.43,251.31 L452.09,254 L454.64,256.68 L457.06,259.32 L459.36,261.94 L461.57,264.57 L467.43,259.43 L465.06,256.84 L462.54,254.2 L459.91,251.54 L457.17,248.88 L454.31,246.2 L451.35,243.52 L448.29,240.83 L445.13,238.13 L441.87,235.42 L438.52,232.7 L435.08,229.98 L431.55,227.26 L427.94,224.53 L424.24,221.81 L420.47,219.08 L416.62,216.35 L412.7,213.62 L408.71,210.9 L404.65,208.18 L400.54,205.47 L396.36,202.77 L392.13,200.07 L387.84,197.38 L383.5,194.71 L379.12,192.05 L374.69,189.4 L370.22,186.76 L365.72,184.15 L361.18,181.55 L356.61,178.97 L352.01,176.41 L347.39,173.87 L342.74,171.35 L338.08,168.86 L333.41,166.4 L328.72,163.96 L324.02,161.55 L319.32,159.17 L314.61,156.83 L309.91,154.51 L305.21,152.23 L300.52,149.99 L295.84,147.78 L291.18,145.61 L286.53,143.48 L281.9,141.39 L277.3,139.35 L272.72,137.34 L268.18,135.38 L263.67,133.47 L259.19,131.61 L254.76,129.79 L250.36,128.03 L246.02,126.31 L241.72,124.65 L237.48,123.05 L233.3,121.49 L229.17,120 L225.11,118.56 L221.12,117.17 Z" fill="#2c3d6c"/>
<polygon points="480.3,280.3 473.7,252.5 454.3,269.4" fill="#2c3d6c"/>
<ellipse cx="531.5" cy="353" rx="106" ry="80" fill="#294a7e" stroke="#16224a" stroke-width="1.6"/>
<ellipse cx="541.6" cy="375" rx="81" ry="63" fill="#5f5aa3" stroke="#1a1f4e" stroke-width="1.4"/>
<ellipse cx="563.5" cy="378" rx="54" ry="40.5" fill="#4a63ab" stroke="#3e4f96" stroke-width="0.8"/>
<ellipse cx="577.5" cy="395.5" rx="35" ry="31.5" fill="#b9b2da" stroke="#a9a0d0" stroke-width="0.6"/>
<text x="469.4" y="304.4" font-size="14.2" fill="#f2f4fa" font-weight="bold" text-anchor="start" textLength="132" lengthAdjust="spacingAndGlyphs" >Artificial Intelligence</text>
<text x="494.6" y="331.4" font-size="10.6" fill="#eeeef8" font-weight="bold" text-anchor="start" textLength="82" lengthAdjust="spacingAndGlyphs" >Machine Learning</text>
<text x="526.4" y="355.9" font-size="10.2" fill="#eef0f8" font-weight="bold" text-anchor="start" textLength="76.8" lengthAdjust="spacingAndGlyphs" >Neural Networks</text>
<text x="554.6" y="385.4" font-size="10.6" fill="#eeebf6" font-weight="bold" text-anchor="start" textLength="25.5" lengthAdjust="spacingAndGlyphs" >Deep</text>
<text x="554.6" y="398.2" font-size="10.6" fill="#eeebf6" font-weight="bold" text-anchor="start" textLength="44.8" lengthAdjust="spacingAndGlyphs" >Learning</text>
<path d="M0,-21.05 L154.5,-19.75 L154.5,-30 L184,0 L154.5,30 L154.5,19.75 L0,21.05 Z" fill="url(#fg1)" transform="translate(441.68 437.75) rotate(164.7)"/>
<path d="M0,-21.05 L126.5,-19.75 L126.5,-30 L156,0 L126.5,30 L126.5,19.75 L0,21.05 Z" fill="url(#fg2)" transform="translate(463.82 458.23) rotate(125.2)"/>
<path d="M0,-21.05 L127.5,-19.75 L127.5,-30 L157,0 L127.5,30 L127.5,19.75 L0,21.05 Z" fill="url(#fg3)" transform="translate(512.79 472.94) rotate(99.9)"/>
<path d="M0,-21.05 L127.5,-19.75 L127.5,-30 L157,0 L127.5,30 L127.5,19.75 L0,21.05 Z" fill="url(#fg4)" transform="translate(565.54 472.64) rotate(81.7)"/>
<path d="M0,-21.05 L131.5,-19.75 L131.5,-30 L161,0 L131.5,30 L131.5,19.75 L0,21.05 Z" fill="url(#fg5)" transform="translate(612.82 453.58) rotate(54.9)"/>
<path d="M0,-21.05 L160.5,-19.75 L160.5,-30 L190,0 L160.5,30 L160.5,19.75 L0,21.05 Z" fill="url(#fg6)" transform="translate(644.81 435.5) rotate(25.5)"/>
<text x="0" y="0" font-size="14" fill="#eef0f8" text-anchor="middle" textLength="112" lengthAdjust="spacingAndGlyphs" transform="translate(360 467) rotate(-15.3)">Risk Stratification</text>
<text x="0" y="0" font-size="14" fill="#eef0f8" text-anchor="middle" textLength="108" lengthAdjust="spacingAndGlyphs" transform="translate(419.5 521.5) rotate(-55)">Patient Selection</text>
<text x="0" y="0" font-size="14.5" fill="#eef0f8" text-anchor="middle" textLength="70.5" lengthAdjust="spacingAndGlyphs" transform="translate(503 550) rotate(-80.1)">Dosimetry</text>
<text x="0" y="0" font-size="14.5" fill="#eef0f8" text-anchor="middle" textLength="78" lengthAdjust="spacingAndGlyphs" transform="translate(575.5 549) rotate(82.3)">Monitoring</text>
<text x="0" y="0" font-size="14" fill="#eef0f8" text-anchor="middle" textLength="97" lengthAdjust="spacingAndGlyphs" transform="translate(658.5 525.5) rotate(54.6)">Drug Discovery</text>
<text x="0" y="0" font-size="14" fill="#eef0f8" text-anchor="middle" textLength="106" lengthAdjust="spacingAndGlyphs" transform="translate(732 476) rotate(25.5)">Clinical Decision</text>
<text x="0" y="0" font-size="14" fill="#eef0f8" text-anchor="middle" textLength="51" lengthAdjust="spacingAndGlyphs" transform="translate(699 480.5) rotate(25.5)">Support</text>
<ellipse cx="545.3" cy="430" rx="106.8" ry="21.3" fill="#8d9dd0" stroke="#33417a" stroke-width="1.4"/>
<text x="462.6" y="434.8" font-size="15.4" fill="#f0f3fc" font-weight="normal" text-anchor="start" textLength="165.4" lengthAdjust="spacingAndGlyphs" stroke="#f0f3fc" stroke-width="0.2">Integration and Analysis</text>
</svg>
</body></html>
